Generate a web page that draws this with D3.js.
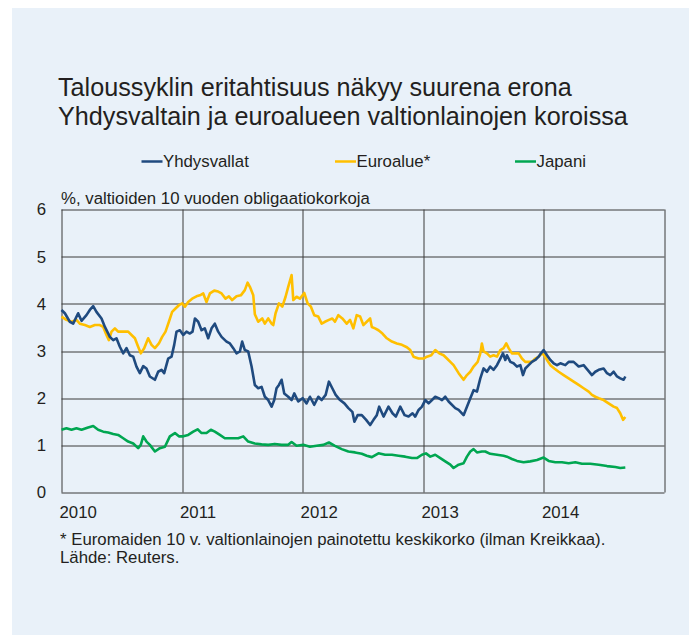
<!DOCTYPE html>
<html>
<head>
<meta charset="utf-8">
<script src="https://cdn.jsdelivr.net/npm/d3@7"></script>
<style>
html, body { margin: 0; padding: 0; background: #ffffff; }
svg { display: block; font-family: "Liberation Sans", Arial, sans-serif; }
</style>
</head>
<body>
<script>
// yields of 10y government bonds as [decimal year, %]
var yhdysvallat = [
  [2010.000,3.87],[2010.028,3.80],[2010.069,3.62],[2010.097,3.58],[2010.138,3.80],[2010.166,3.64],
  [2010.207,3.76],[2010.235,3.87],[2010.263,3.95],[2010.290,3.83],[2010.332,3.69],[2010.360,3.51],
  [2010.401,3.30],[2010.429,3.23],[2010.456,3.27],[2010.484,3.09],[2010.512,2.95],[2010.539,3.06],
  [2010.567,2.91],[2010.595,2.88],[2010.622,2.67],[2010.650,2.53],[2010.678,2.68],[2010.705,2.63],
  [2010.733,2.46],[2010.775,2.39],[2010.802,2.56],[2010.830,2.60],[2010.852,2.53],[2010.885,2.84],
  [2010.913,2.88],[2010.935,3.13],[2010.954,3.41],[2010.982,3.44],[2011.010,3.34],[2011.037,3.41],
  [2011.065,3.37],[2011.087,3.41],[2011.107,3.69],[2011.134,3.62],[2011.162,3.44],[2011.189,3.48],
  [2011.217,3.27],[2011.245,3.48],[2011.272,3.58],[2011.300,3.41],[2011.328,3.30],[2011.369,3.20],
  [2011.397,3.16],[2011.425,3.06],[2011.452,2.95],[2011.480,2.99],[2011.499,3.20],[2011.521,3.02],
  [2011.549,2.99],[2011.577,2.67],[2011.604,2.28],[2011.632,2.21],[2011.660,2.24],[2011.687,2.03],
  [2011.715,1.96],[2011.743,1.82],[2011.765,1.96],[2011.784,2.21],[2011.804,2.28],[2011.826,2.39],
  [2011.848,2.10],[2011.881,2.03],[2011.909,1.96],[2011.931,2.10],[2011.964,1.93],[2012.000,2.00],
  [2012.033,1.89],[2012.061,2.03],[2012.097,1.86],[2012.130,2.03],[2012.158,1.96],[2012.191,2.07],
  [2012.218,2.35],[2012.246,2.21],[2012.274,2.07],[2012.310,1.96],[2012.346,1.89],[2012.379,1.79],
  [2012.412,1.71],[2012.429,1.50],[2012.456,1.64],[2012.490,1.64],[2012.526,1.54],[2012.559,1.43],
  [2012.587,1.54],[2012.614,1.64],[2012.634,1.82],[2012.670,1.61],[2012.711,1.82],[2012.744,1.68],
  [2012.772,1.61],[2012.808,1.82],[2012.844,1.64],[2012.877,1.61],[2012.910,1.68],[2012.932,1.61],
  [2012.960,1.75],[2012.988,1.82],[2013.015,1.96],[2013.043,1.89],[2013.071,1.96],[2013.098,2.03],
  [2013.126,2.00],[2013.154,1.96],[2013.181,2.03],[2013.209,1.93],[2013.264,1.79],[2013.292,1.75],
  [2013.333,1.64],[2013.361,1.82],[2013.389,2.00],[2013.416,2.17],[2013.444,2.14],[2013.472,2.42],
  [2013.499,2.63],[2013.527,2.56],[2013.554,2.67],[2013.582,2.60],[2013.610,2.70],[2013.638,2.84],
  [2013.660,2.95],[2013.679,2.81],[2013.693,2.91],[2013.721,2.77],[2013.748,2.74],[2013.776,2.67],
  [2013.804,2.70],[2013.826,2.49],[2013.845,2.63],[2013.873,2.70],[2013.900,2.77],[2013.928,2.81],
  [2013.956,2.88],[2013.975,2.95],[2013.997,3.02],[2014.025,2.91],[2014.053,2.81],[2014.080,2.74],
  [2014.108,2.70],[2014.136,2.74],[2014.177,2.70],[2014.205,2.77],[2014.246,2.77],[2014.288,2.67],
  [2014.329,2.70],[2014.362,2.60],[2014.398,2.49],[2014.426,2.56],[2014.454,2.60],[2014.495,2.63],
  [2014.523,2.53],[2014.550,2.49],[2014.578,2.56],[2014.606,2.46],[2014.633,2.42],[2014.661,2.39],
  [2014.675,2.46]
];

var euroalue = [
  [2010.000,3.73],[2010.041,3.66],[2010.083,3.62],[2010.124,3.66],[2010.152,3.58],[2010.194,3.55],
  [2010.235,3.51],[2010.277,3.55],[2010.318,3.55],[2010.346,3.51],[2010.373,3.34],[2010.393,3.23],
  [2010.415,3.41],[2010.443,3.48],[2010.470,3.41],[2010.512,3.41],[2010.553,3.41],[2010.581,3.34],
  [2010.609,3.27],[2010.636,3.09],[2010.658,2.95],[2010.686,3.06],[2010.719,3.27],[2010.747,3.13],
  [2010.775,3.06],[2010.808,3.16],[2010.835,3.30],[2010.863,3.41],[2010.891,3.62],[2010.918,3.83],
  [2010.946,3.90],[2010.974,3.97],[2011.001,4.01],[2011.024,3.94],[2011.051,4.04],[2011.084,4.11],
  [2011.120,4.16],[2011.148,4.18],[2011.176,4.22],[2011.203,4.04],[2011.231,4.22],[2011.267,4.28],
  [2011.300,4.26],[2011.328,4.22],[2011.361,4.11],[2011.389,4.16],[2011.416,4.08],[2011.452,4.16],
  [2011.488,4.18],[2011.521,4.29],[2011.544,4.45],[2011.563,4.36],[2011.591,4.18],[2011.604,3.78],
  [2011.632,3.62],[2011.665,3.69],[2011.687,3.58],[2011.715,3.69],[2011.743,3.58],[2011.757,3.55],
  [2011.776,3.80],[2011.804,4.01],[2011.832,3.94],[2011.859,4.15],[2011.881,4.36],[2011.909,4.61],
  [2011.923,4.08],[2011.950,4.15],[2011.978,4.11],[2012.014,4.23],[2012.042,4.01],[2012.069,3.94],
  [2012.097,3.76],[2012.130,3.73],[2012.158,3.58],[2012.185,3.62],[2012.218,3.66],[2012.246,3.69],
  [2012.268,3.62],[2012.296,3.76],[2012.329,3.69],[2012.365,3.58],[2012.393,3.66],[2012.420,3.48],
  [2012.448,3.76],[2012.476,3.73],[2012.503,3.55],[2012.531,3.62],[2012.559,3.69],[2012.573,3.51],
  [2012.600,3.48],[2012.628,3.44],[2012.661,3.37],[2012.697,3.27],[2012.739,3.20],[2012.780,3.16],
  [2012.822,3.13],[2012.863,3.08],[2012.891,3.02],[2012.918,2.88],[2012.960,2.84],[2013.001,2.84],
  [2013.029,2.88],[2013.065,2.91],[2013.098,3.02],[2013.131,2.95],[2013.167,2.91],[2013.195,2.84],
  [2013.223,2.77],[2013.250,2.70],[2013.292,2.53],[2013.333,2.39],[2013.361,2.49],[2013.389,2.56],
  [2013.416,2.67],[2013.450,2.77],[2013.472,2.95],[2013.485,3.16],[2013.499,2.99],[2013.527,2.95],
  [2013.554,2.88],[2013.582,2.91],[2013.610,2.88],[2013.638,3.02],[2013.665,3.06],[2013.687,3.16],
  [2013.707,3.06],[2013.734,2.95],[2013.762,2.95],[2013.790,2.95],[2013.817,2.84],[2013.845,2.77],
  [2013.873,2.77],[2013.900,2.77],[2013.928,2.84],[2013.956,2.88],[2013.983,2.95],[2014.003,2.91],
  [2014.025,2.81],[2014.053,2.70],[2014.086,2.63],[2014.122,2.56],[2014.163,2.49],[2014.205,2.42],
  [2014.246,2.35],[2014.288,2.28],[2014.329,2.21],[2014.371,2.14],[2014.398,2.07],[2014.426,2.03],
  [2014.454,2.00],[2014.495,1.96],[2014.536,1.89],[2014.578,1.82],[2014.606,1.79],[2014.633,1.68],
  [2014.656,1.54],[2014.675,1.60]
];

var japani = [
  [2010.000,1.33],[2010.041,1.36],[2010.083,1.33],[2010.124,1.36],[2010.166,1.33],[2010.221,1.38],
  [2010.263,1.41],[2010.304,1.33],[2010.346,1.29],[2010.387,1.27],[2010.429,1.24],[2010.470,1.22],
  [2010.512,1.15],[2010.553,1.08],[2010.595,1.04],[2010.636,0.94],[2010.658,1.01],[2010.678,1.19],
  [2010.705,1.08],[2010.733,1.01],[2010.775,0.87],[2010.816,0.94],[2010.858,0.97],[2010.899,1.19],
  [2010.941,1.26],[2010.974,1.19],[2011.010,1.19],[2011.051,1.22],[2011.093,1.29],[2011.129,1.34],
  [2011.162,1.26],[2011.203,1.26],[2011.239,1.33],[2011.272,1.29],[2011.314,1.22],[2011.355,1.15],
  [2011.411,1.15],[2011.466,1.15],[2011.508,1.19],[2011.549,1.08],[2011.604,1.04],[2011.660,1.02],
  [2011.715,1.01],[2011.770,1.03],[2011.826,1.01],[2011.881,1.01],[2011.909,1.07],[2011.950,0.99],
  [2012.006,1.01],[2012.061,0.97],[2012.116,0.99],[2012.172,1.01],[2012.218,1.06],[2012.268,0.99],
  [2012.324,0.92],[2012.379,0.87],[2012.434,0.85],[2012.490,0.82],[2012.531,0.78],[2012.573,0.75],
  [2012.628,0.83],[2012.683,0.80],[2012.739,0.80],[2012.794,0.78],[2012.849,0.76],[2012.905,0.73],
  [2012.946,0.73],[2012.988,0.80],[2013.021,0.83],[2013.057,0.76],[2013.098,0.80],[2013.140,0.73],
  [2013.181,0.66],[2013.223,0.59],[2013.250,0.52],[2013.292,0.59],[2013.333,0.62],[2013.361,0.76],
  [2013.389,0.87],[2013.416,0.92],[2013.444,0.85],[2013.485,0.87],[2013.513,0.87],[2013.554,0.82],
  [2013.610,0.80],[2013.665,0.78],[2013.693,0.76],[2013.734,0.71],[2013.776,0.67],[2013.831,0.64],
  [2013.886,0.66],[2013.942,0.69],[2013.997,0.74],[2014.039,0.67],[2014.094,0.64],[2014.149,0.64],
  [2014.205,0.62],[2014.260,0.64],[2014.315,0.61],[2014.384,0.61],[2014.454,0.59],[2014.523,0.56],
  [2014.592,0.54],[2014.633,0.52],[2014.675,0.53]
];

var seriesNames = ["Yhdysvallat", "Euroalue*", "Japani"];
var yTicks = [0, 1, 2, 3, 4, 5, 6];
var yearTicks = [2010, 2011, 2012, 2013, 2014];
var titleLines = ["Taloussyklin eritahtisuus näkyy suurena erona",
                  "Yhdysvaltain ja euroalueen valtionlainojen koroissa"];
var unitLabel = "%, valtioiden 10 vuoden obligaatiokorkoja";
var footnotes = ["* Euromaiden 10 v. valtionlainojen painotettu keskikorko (ilman Kreikkaa).",
                 "Lähde: Reuters."];

var colors = ["#1f4a7f", "#ffbf00", "#00a651"];

function yearToDate(t) {
    // decimal year -> Date
    var y = Math.floor(t);
    var start = new Date(y, 0, 1), end = new Date(y + 1, 0, 1);
    return new Date(+start + (t - y) * (end - start));
}

var W = 689, H = 635;
var margin = {top: 209.5, left: 61.5, right: 24.5, bottom: 142.5};
var width = W - margin.left - margin.right,
    height = H - margin.top - margin.bottom;
var smallFont = "16.8px";

var svg = d3.select("body").append("svg")
    .attr("width", W)
    .attr("height", H);

// light blue panel
svg.append("rect")
    .attr("x", 12).attr("y", 8)
    .attr("width", W - 12).attr("height", H - 8)
    .attr("fill", "#e9f1f9");

// title
svg.append("g").selectAll("text")
    .data(titleLines)
  .enter().append("text")
    .attr("x", 58)
    .attr("y", function(d, i) { return 96 + i * 29; })
    .attr("font-size", "25.2px")
    .attr("fill", "#231f20")
    .text(function(d) { return d; });

// legend
var legendX = [141.5, 335, 515];
var legend = svg.append("g").selectAll("g")
    .data(seriesNames)
  .enter().append("g")
    .attr("transform", function(d, i) { return "translate(" + legendX[i] + ",161.5)"; });
legend.append("line")
    .attr("x1", 0).attr("x2", 21)
    .attr("stroke", function(d, i) { return colors[i]; })
    .attr("stroke-width", 2.5);
legend.append("text")
    .attr("x", 21.5)
    .attr("dy", "0.35em")
    .attr("font-size", smallFont)
    .attr("fill", "#231f20")
    .text(function(d) { return d; });

// unit label
svg.append("text")
    .attr("x", 61)
    .attr("y", 204)
    .attr("font-size", smallFont)
    .attr("fill", "#231f20")
    .text(unitLabel);

var g = svg.append("g")
    .attr("transform", "translate(" + margin.left + "," + margin.top + ")");

var x = d3.scaleTime()
    .domain([new Date(2010, 0, 1), new Date(2015, 0, 1)])
    .range([0, width]);

var y = d3.scaleLinear()
    .domain([0, 6])
    .range([height, 0]);

// grid
g.append("g").selectAll("line")
    .data(yTicks)
  .enter().append("line")
    .attr("x1", 0).attr("x2", width)
    .attr("y1", function(d) { return Math.round(y(d)) + 0.5; })
    .attr("y2", function(d) { return Math.round(y(d)) + 0.5; })
    .attr("stroke", "#3a3a3a")
    .attr("stroke-width", 1);

g.append("g").selectAll("line")
    .data(yearTicks.concat([2015]))
  .enter().append("line")
    .attr("x1", function(d) { return Math.round(x(new Date(d, 0, 1))) + 0.5; })
    .attr("x2", function(d) { return Math.round(x(new Date(d, 0, 1))) + 0.5; })
    .attr("y1", 0).attr("y2", height)
    .attr("stroke", "#3a3a3a")
    .attr("stroke-width", 1);

// y labels
g.append("g").selectAll("text")
    .data(yTicks)
  .enter().append("text")
    .attr("x", -15.5)
    .attr("y", function(d) { return y(d); })
    .attr("dy", "0.35em")
    .attr("text-anchor", "end")
    .attr("font-size", smallFont)
    .attr("fill", "#231f20")
    .text(function(d) { return d; });

// x labels, left aligned at the year line
g.append("g").selectAll("text")
    .data(yearTicks)
  .enter().append("text")
    .attr("x", function(d) { return x(new Date(d, 0, 1)) - 2; })
    .attr("y", height + 25.5)
    .attr("font-size", smallFont)
    .attr("fill", "#231f20")
    .text(function(d) { return d; });

// lines
var line = d3.line()
    .x(function(d) { return x(yearToDate(d[0])); })
    .y(function(d) { return y(d[1]); });

var allSeries = [japani, euroalue, yhdysvallat];
var seriesColors = [colors[2], colors[1], colors[0]];
g.append("g").selectAll("path")
    .data(allSeries)
  .enter().append("path")
    .attr("d", line)
    .attr("fill", "none")
    .attr("stroke", function(d, i) { return seriesColors[i]; })
    .attr("stroke-width", 2.6)
    .attr("stroke-linejoin", "round");

// footnotes
svg.append("g").selectAll("text")
    .data(footnotes)
  .enter().append("text")
    .attr("x", 60)
    .attr("y", function(d, i) { return 545 + i * 17.7; })
    .attr("font-size", smallFont)
    .attr("fill", "#231f20")
    .text(function(d) { return d; });
</script>
</body>
</html>
